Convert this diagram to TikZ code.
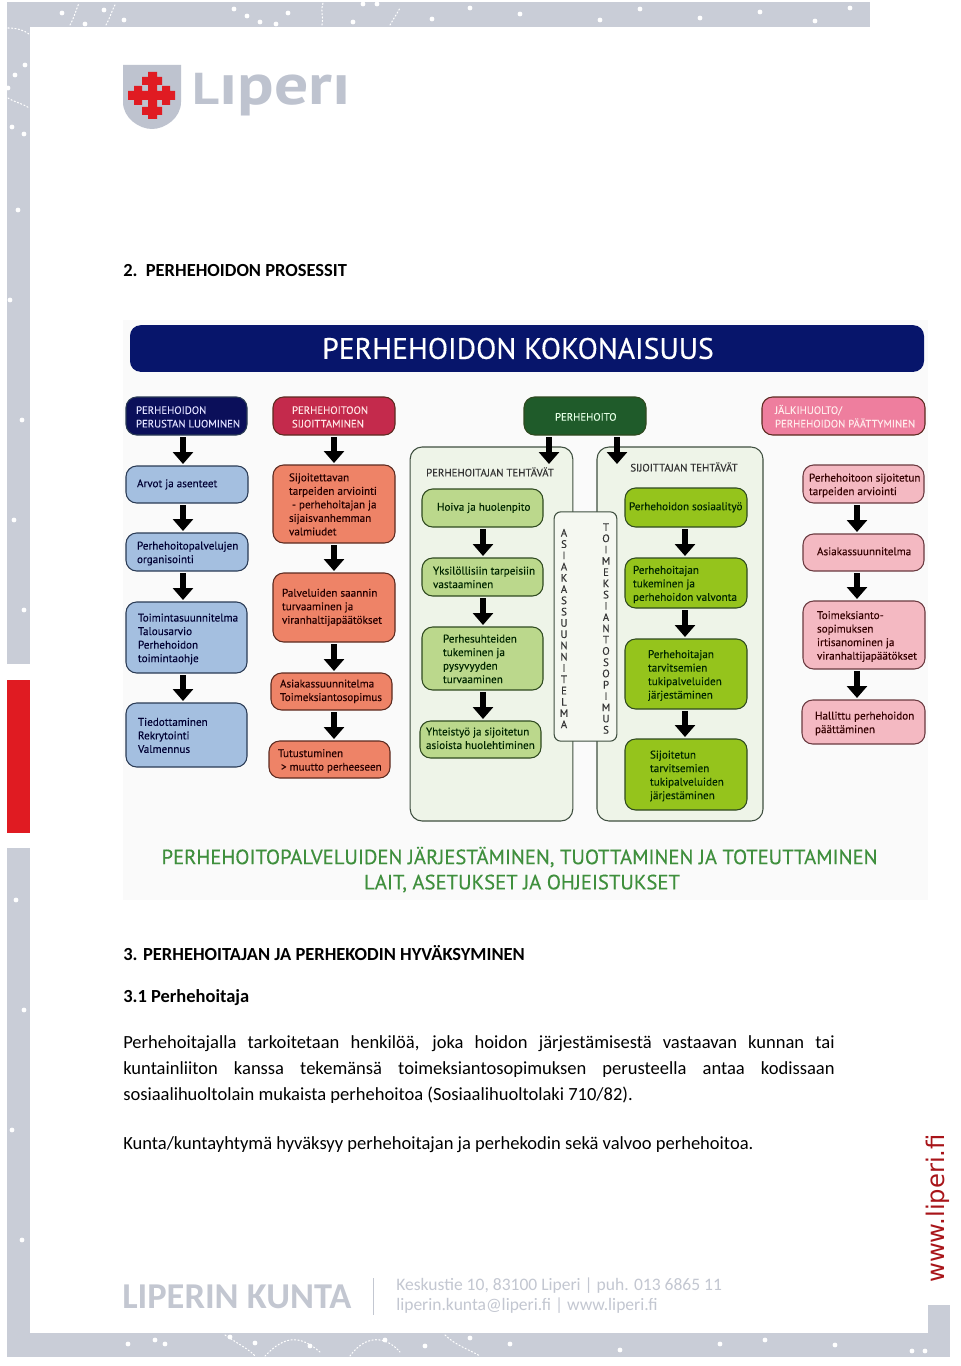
\documentclass[tikz,border=0pt]{standalone}
\usepackage{fontspec}
\usepackage{graphicx}
\setmainfont{Carlito}
\newfontfamily\dfont[FakeBold=0.12]{PT Sans}
\newfontfamily\dfontb[FakeBold=0.35]{PT Sans}
\newfontfamily\webfont{DejaVu Sans}
\usetikzlibrary{arrows.meta,calc}
\definecolor{frame}{HTML}{C9CDD7}
\definecolor{frameRed}{HTML}{E01B22}
\definecolor{logoGray}{HTML}{BEC3CF}
\definecolor{footGray}{HTML}{C3C7D1}
\definecolor{navy}{HTML}{0B0F5A}
\definecolor{barNavy}{HTML}{07156B}
\definecolor{crim}{HTML}{C42A4C}
\definecolor{dkgreen}{HTML}{1F5B2A}
\definecolor{pinkH}{HTML}{EE7E9E}
\definecolor{blueB}{HTML}{A4BFE0}
\definecolor{salmon}{HTML}{EE8367}
\definecolor{lgreen}{HTML}{BBD88C}
\definecolor{mgreen}{HTML}{95C41C}
\definecolor{pinkB}{HTML}{F4B9C2}
\definecolor{panel}{HTML}{EEF4E8}
\definecolor{bigG}{HTML}{3F8F3D}
\definecolor{edgeBlue}{HTML}{2A3B55}
\definecolor{edgeRed}{HTML}{5C2A20}
\definecolor{edgeGreen}{HTML}{2F4A20}
\definecolor{edgePink}{HTML}{6A3A40}
\definecolor{edgePanel}{HTML}{3F4F40}
\tikzset{
  x=0.75pt,y=-0.75pt,
  bx/.style={draw=#1,line width=0.8pt,rounded corners=8pt,inner sep=0pt,outer sep=0pt,anchor=center},
  hdnavy/.style={bx=edgeBlue,fill=navy,text=white!88!blue},
  hdcrim/.style={bx=edgeRed,fill=crim,text=white!90!red},
  hdgreen/.style={bx=edgeGreen,fill=dkgreen,text=white!90!green},
  hdpink/.style={bx=edgeRed,fill=pinkH,text=white!92!red},
  bluebox/.style={bx=edgeBlue,fill=blueB,text=black!80!blue},
  salbox/.style={bx=edgeRed,fill=salmon,text=black!85!red},
  lgbox/.style={bx=edgeGreen,fill=lgreen,text=black!85!green},
  mgbox/.style={bx=edgeGreen,fill=mgreen,text=black!85!green},
  pkbox/.style={bx=edgePink,fill=pinkB,text=black!80!red},
  panelbox/.style={draw=edgePanel,line width=0.8pt,fill=panel,rounded corners=9pt,inner sep=0pt,outer sep=0pt},
  blockarrow/.style={line width=4.3pt,draw=black,-{Triangle[length=9pt,width=15pt]},shorten <=1.5pt,shorten >=1.5pt},
  stripe/.style={fill=frame,draw=none},
  wdot/.style={circle,fill=white,inner sep=0pt,minimum size=3.6pt},
  wpath/.style={draw=white,line width=0.8pt,dash pattern=on 0.9pt off 1.7pt,line cap=round},
  bodytxt/.style={anchor=west,inner sep=0pt,font=\fontsize{13.9}{19.5}\selectfont,text=black},
  bighead/.style={anchor=west,inner sep=0pt,font=\bfseries\fontsize{13.85}{16}\selectfont,text=black},
  dlabel/.style={inner sep=0pt,font=\dfont\fontsize{8.1}{10}\selectfont,text=black!80},
  vert/.style={inner sep=0pt,align=center,font=\dfont\fontsize{8.1}{8.45}\selectfont,text=black!80}
}
% options, name, x1, y1, x2, y2, left padding, text
\def\bxR{-1.5pt}
\def\bxF{8.05}
\newcommand{\bxnode}[8][]{%
  \pgfmathsetlengthmacro{\bxW}{0.75pt*(#5-#3)}%
  \pgfmathsetlengthmacro{\bxH}{0.75pt*(#6-#4)}%
  \pgfmathsetlengthmacro{\bxP}{0.75pt*#7}%
  \node[#1,minimum width=\bxW,minimum height=\bxH] (#2) at ({(#3+#5)/2},{(#4+#6)/2})
    {\makebox[\bxW][l]{\hspace*{\bxP}\raisebox{\bxR}[\height][\depth]{\dfont\fontsize{\bxF}{10.15}\selectfont\begin{tabular}{@{}l@{}}#8\end{tabular}}}};%
}
\newcommand{\conn}[3]{\draw[blockarrow] (#1.south -| #3,0) -- (#2.north -| #3,0);}
\begin{document}
\begin{tikzpicture}
\useasboundingbox (0,0) rectangle (960,1366);
\fill[white] (0,0) rectangle (960,1366);
% page frame
\fill[stripe] (7,2) rectangle (870,27);
\fill[stripe] (7,27) rectangle (30,664);
\fill[frameRed] (7,680) rectangle (30,833);
\fill[stripe] (7,848) rectangle (30,1333);
\fill[stripe] (7,1333) rectangle (950,1357);
\fill[stripe] (928,1305) rectangle (950,1333);
% frame dots
\foreach \p in {(62,13),(104,10),(124,20),(85,24),(234,9),(247,16),(288,13),(260,22),(276,24),(353,22),(363,4),(377,4),(432,19),(470,8),(520,14),(600,20),(640,9),(700,18),(760,12),(815,21),(850,8),
  (25,65),(15,75),(8,88),(12,127),(24,134),(18,210),(10,300),(22,420),(14,520),(24,610),(16,900),(24,1010),(12,1130),(22,1240),
  (128,1344),(155,1340),(165,1344),(230,1337),(255,1343),(310,1346),(385,1340),(425,1346),(470,1338),(510,1344),(620,1350),(720,1344),(765,1340),(835,1345),(912,1351),(925,1351)}
  \node[wdot] at \p {};
\draw[wpath] (8,28) .. controls (16,28) and (24,30) .. (29,34);
\draw[wpath] (8,98) .. controls (14,102) and (24,104) .. (29,108);
\draw[wpath] (70,25) .. controls (74,18) and (76,10) .. (79,3);
\draw[wpath] (106,25) .. controls (110,18) and (112,10) .. (116,3);
\draw[wpath] (322,25) .. controls (324,18) and (320,10) .. (323,3);
\draw[wpath] (390,25) .. controls (394,18) and (398,12) .. (400,8);
\draw[wpath] (225,1335) .. controls (240,1345) and (250,1350) .. (255,1356);
\draw[wpath] (265,1356) .. controls (285,1335) and (300,1335) .. (320,1352);
\draw[wpath] (350,1356) .. controls (365,1335) and (385,1335) .. (400,1352);
\draw[wpath] (445,1335) .. controls (455,1345) and (470,1350) .. (480,1356);
% logo
\fill[logoGray] (123,65) -- (181,65) -- (181,102) .. controls (181,118) and (165,129) .. (152,129) .. controls (139,129) and (123,118) .. (123,102) -- cycle;
\fill[frameRed] (148,72) rectangle (157,119)
  (128,91) rectangle (175,100)
  (142,77) rectangle (162,85)
  (142,107) rectangle (162,115)
  (134,86) rectangle (142,105)
  (162,86) rectangle (170,105);
\node[anchor=west,inner sep=0pt,text=logoGray] (logoword) at (192,95) {\scalebox{1.27}[1.08]{\fontspec{PT Sans}\bfseries\fontsize{40}{40}\selectfont{\fontsize{31}{31}\selectfont L}ıperı}};
% page texts
\node[bighead] (h2) at (123,270.5) {2.\ \ PERHEHOIDON PROSESSIT};
\node[bighead] (h3) at (123,953.5) {3. PERHEHOITAJAN JA PERHEKODIN HYVÄKSYMINEN};
\node[bighead] (h31) at (123,997.5) {3.1 Perhehoitaja};
\node[bodytxt,align=left] (para) at (123,1070) {%
  \makebox[533.5pt][s]{Perhehoitajalla tarkoitetaan henkilöä, joka hoidon järjestämisestä vastaavan kunnan tai}\\
  \makebox[533.5pt][s]{kuntainliiton kanssa tekemänsä toimeksiantosopimuksen perusteella antaa kodissaan}\\
  sosiaalihuoltolain mukaista perhehoitoa (Sosiaalihuoltolaki 710/82).};
\node[bodytxt] (kunta) at (123,1145) {Kunta/kuntayhtymä hyväksyy perhehoitajan ja perhekodin sekä valvoo perhehoitoa.};
% footer
\node[anchor=west,inner sep=0pt,text=footGray] (fname) at (122,1297) {\bfseries\fontsize{27.3}{28}\selectfont LIPERIN KUNTA};
\coordinate (fa) at (373,1278);
\coordinate (fb) at (373,1315);
\draw[footGray,line width=0.6pt] (fa) -- (fb);
\node[anchor=west,inner sep=0pt,text=footGray] (f1) at (396,1285.5) {\fontsize{13.15}{16}\selectfont Keskustie 10, 83100 Liperi | puh. 013 6865 11};
\node[anchor=west,inner sep=0pt,text=footGray] (f2) at (396,1306) {\fontsize{13.15}{16}\selectfont liperin.kunta@liperi.fi | www.liperi.fi};
\node[rotate=90,anchor=west,inner sep=0pt,text=frameRed!75!black] (web) at (938,1283) {\webfont\fontsize{18.2}{19}\selectfont www.liperi.fi};
% diagram background
\fill[black!2] (123,320) rectangle (928,900);
\node[fill=barNavy,rounded corners=8pt,minimum width=595.5pt,minimum height=35pt,inner sep=0pt,text=white] (title) at (527,348.5) {\makebox[595.5pt]{\hspace*{-13.5pt}\dfontb\fontsize{22.2}{24}\selectfont PERHEHOIDON KOKONAISUUS}};
% panels
\node[panelbox,minimum width=122pt,minimum height=280.5pt] (pL) at (491.5,634) {};
\node[panelbox,minimum width=124.5pt,minimum height=280.5pt] (pR) at (680,634) {};
\node[dlabel] (pLt) at (490,472) {PERHEHOITAJAN TEHTÄVÄT};
\node[dlabel] (pRt) at (684,467) {SIJOITTAJAN TEHTÄVÄT};
% centre box
\node[panelbox,rounded corners=5pt,minimum width=47pt,minimum height=172pt,fill=panel!60!white] (mid) at (585.5,626.5) {};
\node[vert] (midL) at (564,628.5) {A\\S\\I\\A\\K\\A\\S\\S\\U\\U\\N\\N\\I\\T\\E\\L\\M\\A};
\node[vert] (midR) at (606,628.5) {T\\O\\I\\M\\E\\K\\S\\I\\A\\N\\T\\O\\S\\O\\P\\I\\M\\U\\S};
% headers
\bxnode[hdnavy]{a0}{126}{397}{247}{435}{10}{PERHEHOIDON\\PERUSTAN LUOMINEN}
\bxnode[hdcrim]{b0}{273}{397}{395}{435}{19}{PERHEHOITOON\\SIJOITTAMINEN}
\bxnode[hdgreen]{c0}{524}{397}{646}{435}{31}{PERHEHOITO}
\bxnode[hdpink]{e0}{762}{397}{925}{435}{13}{JÄLKIHUOLTO/\\PERHEHOIDON PÄÄTTYMINEN}
\def\bxF{8.35}
\def\bxR{0pt}
\bxnode[bluebox]{a1}{126}{466}{248}{503}{11}{Arvot ja asenteet}
\bxnode[salbox]{b2}{273}{573}{395}{642}{9}{Palveluiden saannin\\turvaaminen ja\\viranhaltijapäätökset}
\bxnode[salbox]{b3}{271}{673}{392}{710}{9}{Asiakassuunnitelma\\Toimeksiantosopimus}
\bxnode[lgbox]{c1}{422}{489}{543}{527}{15}{Hoiva ja huolenpito}
\bxnode[lgbox]{c4}{420}{721}{541}{758}{6}{Yhteistyö ja sijoitetun\\asioista huolehtiminen}
\bxnode[mgbox]{d1}{625}{488}{747}{527}{4}{Perhehoidon sosiaalityö}
\bxnode[pkbox]{e2}{803}{534}{924}{571}{14}{Asiakassuunnitelma}
\def\bxR{-1.2pt}
% column 1
\bxnode[bluebox]{a2}{126}{533}{248}{571}{11}{Perhehoitopalvelujen\\organisointi}
\bxnode[bluebox]{a3}{126}{602}{247}{673}{12}{Toimintasuunnitelma\\Talousarvio\\Perhehoidon\\toimintaohje}
\bxnode[bluebox]{a4}{126}{703}{247}{767}{12}{Tiedottaminen\\Rekrytointi\\Valmennus}
% column 2
\bxnode[salbox]{b1}{273}{465}{395}{543}{16}{Sijoitettavan\\tarpeiden arviointi\\\ - perhehoitajan ja\\sijaisvanhemman\\valmiudet}
\bxnode[salbox]{b4}{269}{741}{390}{778}{9}{Tutustuminen\\\ > muutto perheeseen}
% column 3
\bxnode[lgbox]{c2}{422}{558}{543}{596}{11}{Yksilöllisiin tarpeisiin\\vastaaminen}
\bxnode[lgbox]{c3}{422}{627}{543}{690}{21}{Perhesuhteiden\\tukeminen ja\\pysyvyyden\\turvaaminen}
% column 4
\bxnode[mgbox]{d2}{625}{558}{747}{608}{8}{Perhehoitajan\\tukeminen ja\\perhehoidon valvonta}
\bxnode[mgbox]{d3}{625}{639}{747}{709}{23}{Perhehoitajan\\tarvitsemien\\tukipalveluiden\\järjestäminen}
\bxnode[mgbox]{d4}{625}{739}{747}{810}{25}{Sijoitetun\\tarvitsemien\\tukipalveluiden\\järjestäminen}
% column 5
\bxnode[pkbox]{e1}{803}{465}{924}{503}{6}{Perhehoitoon sijoitetun\\tarpeiden arviointi}
\bxnode[pkbox]{e3}{803}{601}{925}{669}{14}{Toimeksianto-\\sopimuksen\\irtisanominen ja\\viranhaltijapäätökset}
\bxnode[pkbox]{e4}{802}{700}{925}{744}{13}{Hallittu perhehoidon\\päättäminen}
% connectors
\conn{a0}{a1}{183}\conn{a1}{a2}{183}\conn{a2}{a3}{183}\conn{a3}{a4}{183}
\conn{b0}{b1}{334}\conn{b1}{b2}{334}\conn{b2}{b3}{334}\conn{b3}{b4}{334}
\conn{c1}{c2}{483}\conn{c2}{c3}{483}\conn{c3}{c4}{483}
\conn{d1}{d2}{685}\conn{d2}{d3}{685}\conn{d3}{d4}{685}
\conn{e1}{e2}{857}\conn{e2}{e3}{857}\conn{e3}{e4}{857}
\coordinate (tipL) at (549,464);
\coordinate (tipR) at (617,464);
\draw[blockarrow,shorten >=0pt] (c0.south -| tipL) -- (tipL);
\draw[blockarrow,shorten >=0pt] (c0.south -| tipR) -- (tipR);
% bottom captions
\node[inner sep=0pt,text=bigG] (cap1) at (519.5,857) {\dfontb\fontsize{15.5}{17}\selectfont PERHEHOITOPALVELUIDEN JÄRJESTÄMINEN, TUOTTAMINEN JA TOTEUTTAMINEN};
\node[inner sep=0pt,text=bigG] (cap2) at (522,883.5) {\dfontb\fontsize{15.5}{17}\selectfont LAIT, ASETUKSET JA OHJEISTUKSET};
\end{tikzpicture}
\end{document}
